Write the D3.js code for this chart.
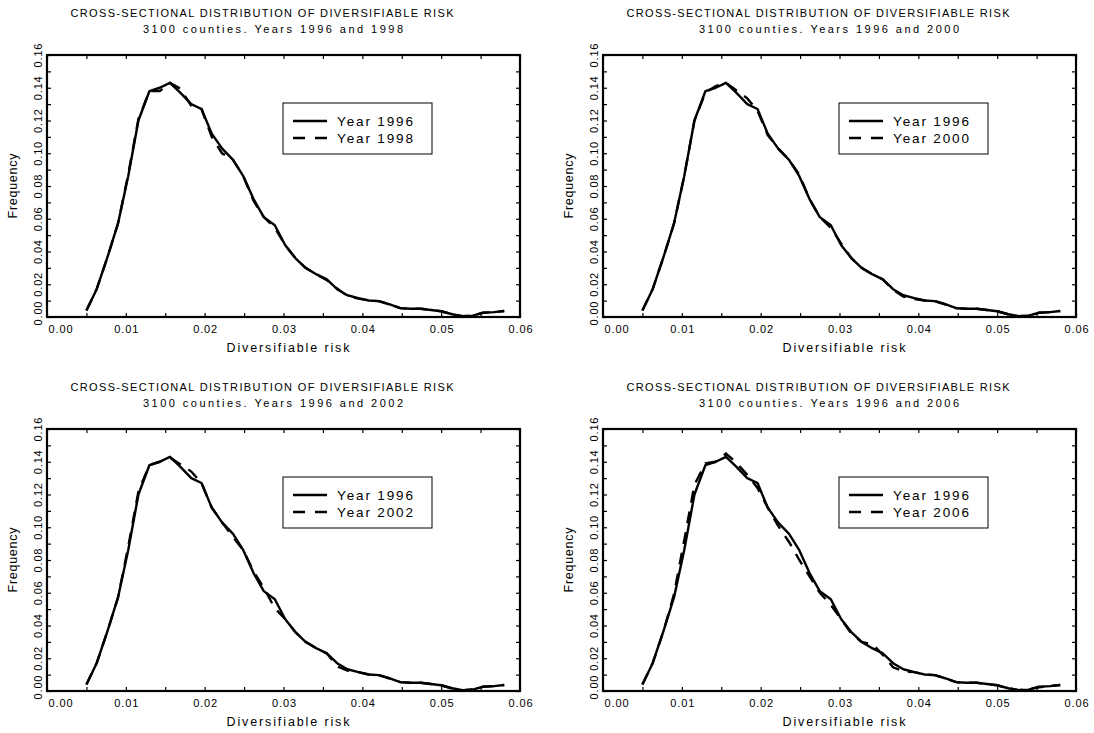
<!DOCTYPE html>
<html>
<head>
<meta charset="utf-8">
<script src="https://cdn.jsdelivr.net/npm/d3@7"></script>
<style>
  body { margin: 0; background: #fff; }
  svg { display: block; font-family: "Liberation Sans", Arial, sans-serif; }
  .tick line { stroke: #000; stroke-width: 1.2; }
  .tick text { font-size: 11px; fill: #000; }
</style>
</head>
<body>
<svg id="chart" width="1094" height="733"></svg>
<script>
let width = 1094;
let height = 733;

// diversifiable risk (x) at each point of the frequency polygon
let risk = [
  0.0050, 0.0063, 0.0077, 0.0090, 0.0103, 0.0116, 0.0130, 0.0143, 0.0156, 0.0169,
  0.0183, 0.0196, 0.0209, 0.0222, 0.0236, 0.0249, 0.0262, 0.0275, 0.0289, 0.0302,
  0.0315, 0.0328, 0.0342, 0.0355, 0.0368, 0.0381, 0.0395, 0.0408, 0.0421, 0.0434,
  0.0448, 0.0461, 0.0474, 0.0487, 0.0500, 0.0514, 0.0527, 0.0540, 0.0553, 0.0567,
  0.0580
];

let year1996 = [
  0.0040, 0.0170, 0.0370, 0.0570, 0.0860, 0.1200, 0.1380, 0.1400, 0.1430, 0.1370,
  0.1300, 0.1270, 0.1120, 0.1030, 0.0960, 0.0860, 0.0720, 0.0610, 0.0560, 0.0440,
  0.0360, 0.0300, 0.0260, 0.0230, 0.0170, 0.0133, 0.0115, 0.0101, 0.0097, 0.0078,
  0.0054, 0.0050, 0.0050, 0.0043, 0.0035, 0.0017, 0.0005, 0.0008, 0.0026, 0.0030,
  0.0037
];

let year1998 = [
  0.0040, 0.0170, 0.0370, 0.0570, 0.0870, 0.1210, 0.1380, 0.1380, 0.1430, 0.1395,
  0.1290, 0.1270, 0.1100, 0.1000, 0.0960, 0.0860, 0.0710, 0.0610, 0.0545, 0.0440,
  0.0360, 0.0300, 0.0260, 0.0225, 0.0175, 0.0128, 0.0112, 0.0101, 0.0097, 0.0078,
  0.0054, 0.0050, 0.0050, 0.0043, 0.0035, 0.0017, 0.0005, 0.0008, 0.0026, 0.0030,
  0.0037
];

let year2000 = [
  0.0040, 0.0170, 0.0370, 0.0570, 0.0860, 0.1200, 0.1370, 0.1410, 0.1430, 0.1385,
  0.1335, 0.1260, 0.1110, 0.1030, 0.0960, 0.0870, 0.0720, 0.0610, 0.0545, 0.0450,
  0.0360, 0.0300, 0.0260, 0.0230, 0.0165, 0.0125, 0.0110, 0.0101, 0.0097, 0.0078,
  0.0054, 0.0050, 0.0050, 0.0043, 0.0035, 0.0017, 0.0005, 0.0008, 0.0026, 0.0030,
  0.0037
];

let year2002 = [
  0.0040, 0.0170, 0.0370, 0.0570, 0.0880, 0.1220, 0.1380, 0.1400, 0.1425, 0.1385,
  0.1340, 0.1270, 0.1120, 0.1030, 0.0940, 0.0860, 0.0730, 0.0630, 0.0505, 0.0440,
  0.0360, 0.0300, 0.0260, 0.0230, 0.0150, 0.0125, 0.0115, 0.0101, 0.0097, 0.0078,
  0.0054, 0.0050, 0.0050, 0.0043, 0.0035, 0.0015, 0.0003, 0.0011, 0.0026, 0.0030,
  0.0037
];

let year2006 = [
  0.0040, 0.0170, 0.0370, 0.0590, 0.0920, 0.1260, 0.1390, 0.1400, 0.1450, 0.1395,
  0.1320, 0.1240, 0.1120, 0.1010, 0.0910, 0.0800, 0.0700, 0.0600, 0.0525, 0.0440,
  0.0350, 0.0300, 0.0285, 0.0220, 0.0145, 0.0120, 0.0115, 0.0101, 0.0097, 0.0078,
  0.0054, 0.0050, 0.0050, 0.0043, 0.0035, 0.0017, 0.0005, 0.0012, 0.0022, 0.0030,
  0.0037
];

let compareYears = ["1998", "2000", "2002", "2006"];
let compareSeries = [year1998, year2000, year2002, year2006];

let xTickValues = [0, 0.01, 0.02, 0.03, 0.04, 0.05, 0.06];
let xTickLabels = ["0.00", "0.01", "0.02", "0.03", "0.04", "0.05", "0.06"];
let xMinorTicks = [0.005, 0.015, 0.025, 0.035, 0.045, 0.055];

let yTickValues = [0, 0.02, 0.04, 0.06, 0.08, 0.10, 0.12, 0.14, 0.16];
let yTickLabels = ["0.00", "0.02", "0.04", "0.06", "0.08", "0.10", "0.12", "0.14", "0.16"];
let yMinorTicks = [0.01, 0.03, 0.05, 0.07, 0.09, 0.11, 0.13, 0.15];

let plotW = 473;
let plotH = 262;
let panelPos = [[47, 55], [603, 55], [47, 429], [603, 429]];

let svg = d3.select("#chart");

let x = d3.scaleLinear().domain([0, 0.06]).range([0, plotW]);
let y = d3.scaleLinear().domain([0, 0.16]).range([plotH, 0]);

let line = d3.line()
    .x(d => x(d[0]))
    .y(d => y(d[1]));

let allX = xTickValues.concat(xMinorTicks);
let allY = yTickValues.concat(yMinorTicks);

compareYears.forEach((yr, i) => {
  let g = svg.append("g")
      .attr("transform", `translate(${panelPos[i][0]},${panelPos[i][1]})`);

  // titles
  g.append("text")
      .attr("x", 215).attr("y", -38)
      .attr("text-anchor", "middle")
      .attr("textLength", 383)
      .style("font-size", "11px")
      .text("CROSS-SECTIONAL DISTRIBUTION OF DIVERSIFIABLE RISK");
  g.append("text")
      .attr("x", 226).attr("y", -22)
      .attr("text-anchor", "middle")
      .attr("textLength", 260)
      .style("font-size", "11px")
      .text("3100 counties. Years 1996 and " + yr);

  // axes
  let xAxis = g.append("g")
      .attr("transform", `translate(0,${plotH})`)
      .call(d3.axisBottom(x)
        .tickValues(allX)
        .tickSizeInner(-4)
        .tickSizeOuter(0)
        .tickPadding(8)
        .tickFormat(d => {
          let k = xTickValues.indexOf(d);
          return k >= 0 ? xTickLabels[k] : "";
        }))
      .call(a => a.select(".domain").remove());
  xAxis.selectAll("text")
      .filter(function () { return this.textContent != ""; })
      .attr("textLength", 24);
  xAxis.selectAll("text")
      .filter(d => d === 0)
      .attr("dx", 13);

  g.append("g")
      .call(d3.axisTop(x).tickValues(allX).tickSizeInner(-4).tickSizeOuter(0).tickFormat(""))
      .call(a => a.select(".domain").remove());

  let yAxis = g.append("g")
      .call(d3.axisLeft(y)
        .tickValues(allY)
        .tickSizeInner(-4)
        .tickSizeOuter(0)
        .tickFormat(d => {
          let k = yTickValues.indexOf(d);
          return k >= 0 ? yTickLabels[k] : "";
        }))
      .call(a => a.select(".domain").remove());
  yAxis.selectAll("text")
      .attr("x", 0)
      .attr("dy", 0)
      .attr("text-anchor", "middle")
      .attr("transform", d => d === 0 ? "translate(-5,-4) rotate(-90)" : "translate(-5,0) rotate(-90)")
      .filter(function () { return this.textContent != ""; })
      .attr("textLength", 24);

  g.append("g")
      .attr("transform", `translate(${plotW},0)`)
      .call(d3.axisRight(y).tickValues(allY).tickSizeInner(-4).tickSizeOuter(0).tickFormat(""))
      .call(a => a.select(".domain").remove());

  g.append("rect")
      .attr("width", plotW)
      .attr("height", plotH)
      .attr("fill", "none")
      .attr("stroke", "#000")
      .attr("stroke-width", 2.2);

  // axis titles
  g.append("text")
      .attr("x", 241).attr("y", plotH + 35)
      .attr("text-anchor", "middle")
      .attr("textLength", 123)
      .style("font-size", "12.5px")
      .text("Diversifiable risk");
  g.append("text")
      .attr("transform", `translate(-30,${plotH / 2}) rotate(-90)`)
      .attr("text-anchor", "middle")
      .attr("textLength", 65)
      .style("font-size", "12.5px")
      .text("Frequency");

  // curves
  g.append("path")
      .datum(d3.zip(risk, year1996))
      .attr("d", line)
      .attr("fill", "none")
      .attr("stroke", "#000")
      .attr("stroke-width", 2.4)
      .attr("stroke-linejoin", "round");
  g.append("path")
      .datum(d3.zip(risk, compareSeries[i]))
      .attr("d", line)
      .attr("fill", "none")
      .attr("stroke", "#000")
      .attr("stroke-width", 2.4)
      .attr("stroke-dasharray", "12,9");

  // legend
  let legend = g.append("g").attr("transform", "translate(236,48)");
  legend.append("rect")
      .attr("width", 149).attr("height", 51)
      .attr("fill", "#fff")
      .attr("stroke", "#000")
      .attr("stroke-width", 1);
  let items = [["Year 1996", null], ["Year " + yr, "12,10"]];
  items.forEach((it, j) => {
    legend.append("line")
        .attr("x1", 10).attr("x2", 44)
        .attr("y1", 18 + j * 17).attr("y2", 18 + j * 17)
        .attr("stroke", "#000")
        .attr("stroke-width", 2.4)
        .attr("stroke-dasharray", it[1]);
    legend.append("text")
        .attr("x", 54).attr("y", 23 + j * 17)
        .attr("textLength", 76)
        .style("font-size", "13.5px")
        .text(it[0]);
  });
});
</script>
</body>
</html>
